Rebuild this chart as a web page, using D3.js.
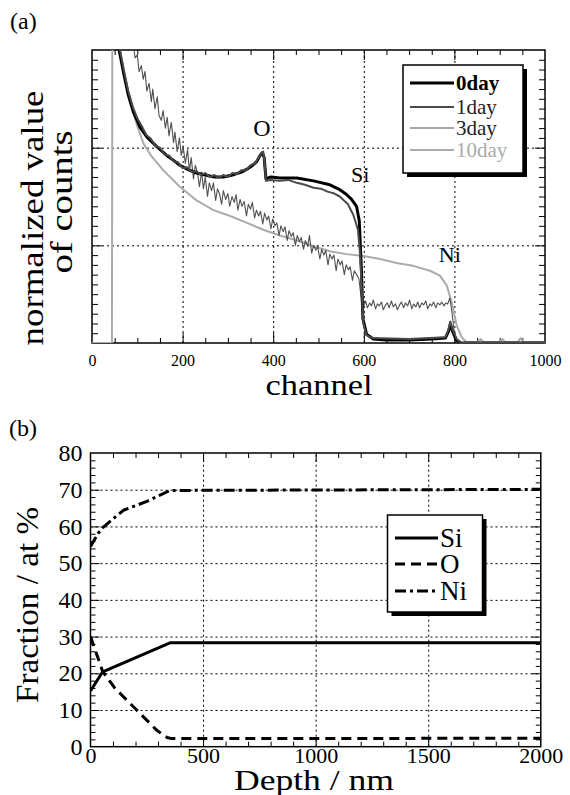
<!DOCTYPE html>
<html><head><meta charset="utf-8">
<script src="https://cdn.jsdelivr.net/npm/d3@7"></script>
<style>
body{margin:0;background:#fff}
svg{display:block}
text{font-family:"Liberation Serif","DejaVu Serif",serif;fill:#000}
</style>
</head><body>
<svg id="c" width="570" height="795"></svg>
<script>
// ---------------- DATA ----------------
// (a) RBS spectra: [channel, normalized counts]
const channelTicks = [0, 200, 400, 600, 800, 1000];
const spectraNames = ["0day", "1day", "3day", "10day"];
const day0 = [[52,3.6],[56,3.2],[60,3.0],[65,2.88],[70,2.76],[80,2.54],[91,2.37],[106,2.21],[121,2.11],[143,2.01],[165,1.92],[180,1.87],[194,1.82],[210,1.78],[231,1.74],[250,1.72],[270,1.70],[290,1.70],[310,1.72],[330,1.75],[342,1.78],[355,1.82],[364,1.86],[371,1.92],[376,1.95],[380,1.90],[384,1.68],[395,1.70],[415,1.69],[452,1.69],[489,1.66],[525,1.62],[547,1.57],[562,1.52],[573,1.47],[584,1.40],[590,1.25],[595,0.72],[598,0.25],[606,0.09],[621,0.04],[650,0.03],[700,0.03],[750,0.04],[780,0.05],[787,0.12],[791,0.19],[796,0.12],[804,0.03],[815,0],[1000,0]];
const day1 = [[54,3.6],[58,3.1],[64,2.95],[70,2.80],[80,2.58],[90,2.42],[100,2.30],[110,2.22],[120,2.13],[130,2.09],[140,2.02],[150,2.00],[160,1.93],[170,1.92],[180,1.86],[190,1.85],[200,1.79],[210,1.80],[220,1.75],[230,1.76],[240,1.72],[250,1.74],[260,1.70],[270,1.72],[280,1.69],[290,1.72],[300,1.70],[310,1.74],[320,1.73],[330,1.77],[340,1.77],[350,1.82],[360,1.84],[368,1.90],[374,1.94],[378,1.96],[381,1.85],[384,1.66],[395,1.67],[415,1.66],[433,1.67],[452,1.64],[470,1.62],[489,1.59],[505,1.58],[520,1.55],[535,1.53],[547,1.50],[565,1.42],[577,1.31],[587,1.16],[592,0.90],[596,0.50],[599,0.20],[606,0.08],[620,0.05],[700,0.04],[780,0.06],[787,0.14],[791,0.22],[796,0.14],[805,0.04],[815,0],[1000,0]];
const day3 = [[70,3.6],[80,3.3],[86,3.02],[91,3.08],[95,2.92],[100,2.95],[104,2.78],[109,2.84],[113,2.70],[117,2.78],[121,2.58],[126,2.66],[131,2.47],[134,2.60],[139,2.40],[144,2.52],[148,2.33],[153,2.28],[157,2.38],[162,2.20],[166,2.31],[170,2.12],[175,2.26],[180,2.05],[183,2.16],[188,1.96],[193,2.10],[197,1.92],[201,2.02],[206,1.84],[211,1.98],[215,1.76],[219,1.90],[224,1.68],[228,1.82],[233,1.74],[237,1.60],[242,1.75],[246,1.58],[250,1.70],[255,1.50],[259,1.64],[264,1.56],[268,1.64],[273,1.46],[277,1.58],[282,1.52],[286,1.42],[290,1.56],[295,1.47],[300,1.53],[304,1.40],[309,1.50],[314,1.44],[318,1.52],[322,1.36],[327,1.47],[331,1.40],[336,1.45],[341,1.30],[345,1.42],[350,1.37],[354,1.44],[359,1.28],[363,1.36],[368,1.30],[372,1.35],[377,1.22],[381,1.33],[386,1.26],[390,1.30],[395,1.17],[399,1.27],[404,1.20],[408,1.23],[413,1.10],[417,1.20],[422,1.14],[426,1.19],[431,1.05],[435,1.15],[440,1.09],[444,1.13],[449,1.00],[453,1.10],[458,1.04],[462,1.08],[467,0.96],[471,1.05],[476,0.99],[480,1.10],[485,0.92],[489,1.00],[494,0.95],[498,0.99],[503,0.86],[507,0.96],[512,0.90],[516,0.95],[521,0.80],[525,0.91],[530,0.86],[534,0.90],[539,0.74],[543,0.86],[548,0.80],[552,0.84],[557,0.70],[561,0.80],[566,0.75],[570,0.78],[575,0.64],[579,0.74],[584,0.70],[589,0.66],[592,0.55],[595,0.42],[600,0.38],[604,0.43],[608,0.36],[613,0.41],[617,0.38],[621,0.44],[626,0.35],[630,0.40],[634,0.38],[639,0.42],[643,0.34],[648,0.39],[652,0.41],[656,0.36],[661,0.43],[665,0.37],[670,0.40],[674,0.34],[679,0.39],[683,0.42],[688,0.36],[692,0.41],[697,0.38],[701,0.44],[706,0.35],[710,0.40],[715,0.37],[719,0.42],[723,0.36],[728,0.41],[732,0.39],[737,0.43],[741,0.35],[746,0.40],[750,0.38],[754,0.42],[759,0.36],[763,0.41],[768,0.39],[772,0.42],[777,0.38],[781,0.41],[785,0.40],[790,0.46],[795,0.30],[800,0.10],[806,0.02],[815,0],[1000,0]];
const day10 = [[0,0],[44,0],[45,3.6],[58,3.05],[65,2.88],[70,2.76],[80,2.55],[90,2.38],[100,2.22],[114,2.04],[130,1.92],[157,1.77],[194,1.60],[231,1.46],[268,1.36],[305,1.30],[342,1.23],[378,1.16],[415,1.10],[452,1.05],[489,0.99],[525,0.94],[562,0.91],[599,0.89],[636,0.86],[672,0.82],[709,0.79],[746,0.74],[768,0.69],[783,0.59],[794,0.42],[805,0.18],[816,0.06],[826,0.01],[850,0.01],[858,0.04],[864,0.01],[900,0.01],[906,0.04],[912,0.01],[940,0.01],[946,0.05],[952,0.01],[1000,0.01]];
const peakLabels = [["O", 375, 2.12], ["Si", 592, 1.65], ["Ni", 790, 0.83]];

// (b) depth profile: [depth nm, at %]
const depthTicks = [0, 500, 1000, 1500, 2000];
const fractionTicks = [0, 10, 20, 30, 40, 50, 60, 70, 80];
const elementNames = ["Si", "O", "Ni"];
const siProfile = [[0,15.2],[54,20.4],[353,28.3],[2000,28.3]];
const oProfile = [[0,30],[54,20.5],[109,15.9],[205,10],[294,4.5],[340,2.5],[360,2.2],[2000,2.3]];
const niProfile = [[0,54.5],[35,58.2],[57,59.8],[146,64.4],[250,66.8],[353,69.8],[2000,70.1]];

// ---------------- DRAW ----------------
const SERIF = '"Liberation Serif","DejaVu Serif",serif';
const svg = d3.select("#c");

function inward(g, axisFn, scale, values, len) {
  g.call(axisFn(scale).tickValues(values).tickSize(-len).tickFormat(""))
   .call(s => s.select(".domain").remove())
   .selectAll("line").attr("stroke", "#000").attr("stroke-width", 1);
}
function grid(g, axisFn, scale, values, len) {
  g.call(axisFn(scale).tickValues(values).tickSize(-len).tickFormat(""))
   .call(s => s.select(".domain").remove())
   .selectAll("line").attr("stroke", "#000").attr("stroke-width", 1).attr("stroke-dasharray", "2,3");
}
function txt(x, y, s, size) {
  return svg.append("text").attr("x", x).attr("y", y).attr("font-family", SERIF)
    .style("font-size", size + "px").text(s);
}

// ===== Panel (a) =====
const A = {l: 92, r: 545, t: 50, b: 343};
const xA = d3.scaleLinear().domain([0, 1000]).range([A.l, A.r]);
const yA = d3.scaleLinear().domain([0, 3]).range([A.b, A.t]);
const wA = A.r - A.l, hA = A.b - A.t;

svg.append("defs").append("clipPath").attr("id", "clipA")
  .append("rect").attr("x", A.l).attr("y", A.t).attr("width", wA).attr("height", hA);

grid(svg.append("g").attr("transform", `translate(0,${A.b})`), d3.axisBottom, xA, [200, 400, 600, 800], hA);
grid(svg.append("g").attr("transform", `translate(${A.l},0)`), d3.axisLeft, yA, [1, 2], wA);

const chMinor = d3.range(50, 1000, 50).filter(v => v % 200 !== 0);
const chMajor = [200, 400, 600, 800];
const cntMinor = d3.range(1, 30).map(v => v / 10).filter(v => Math.abs(v - Math.round(v)) > 1e-6);
inward(svg.append("g").attr("transform", `translate(0,${A.b})`), d3.axisBottom, xA, chMinor, 5);
inward(svg.append("g").attr("transform", `translate(0,${A.b})`), d3.axisBottom, xA, chMajor, 10);
inward(svg.append("g").attr("transform", `translate(0,${A.t})`), d3.axisTop, xA, chMinor, 5);
inward(svg.append("g").attr("transform", `translate(0,${A.t})`), d3.axisTop, xA, chMajor, 10);
inward(svg.append("g").attr("transform", `translate(${A.l},0)`), d3.axisLeft, yA, cntMinor, 6);
inward(svg.append("g").attr("transform", `translate(${A.l},0)`), d3.axisLeft, yA, [1, 2], 10);
inward(svg.append("g").attr("transform", `translate(${A.r},0)`), d3.axisRight, yA, cntMinor, 6);
inward(svg.append("g").attr("transform", `translate(${A.r},0)`), d3.axisRight, yA, [1, 2], 10);

svg.append("rect").attr("x", A.l).attr("y", A.t).attr("width", wA).attr("height", hA)
  .attr("fill", "none").attr("stroke", "#000").attr("stroke-width", 1.5);

const labA = svg.append("g").attr("transform", `translate(0,${A.b})`)
  .call(d3.axisBottom(xA).tickValues(channelTicks).tickSize(0).tickPadding(12).tickFormat(d3.format("d")));
labA.select(".domain").remove();
labA.selectAll("text").attr("font-family", SERIF).style("font-size", "16px").attr("fill", "#000");

const lineA = d3.line().x(d => xA(d[0])).y(d => yA(d[1]));
const styleA = {
  "0day": {stroke: "#000", width: 3},
  "1day": {stroke: "#4a4a4a", width: 2},
  "3day": {stroke: "#505050", width: 1.1},
  "10day": {stroke: "#ababab", width: 2}
};
const spectra = {"0day": day0, "1day": day1, "3day": day3, "10day": day10};
const gA = svg.append("g").attr("clip-path", "url(#clipA)");
["10day", "3day", "0day", "1day"].forEach(n => {
  gA.append("path").datum(spectra[n]).attr("d", lineA)
    .attr("fill", "none").attr("stroke", styleA[n].stroke).attr("stroke-width", styleA[n].width)
    .attr("stroke-linejoin", "round");
});

// peak labels
const peakSize = {"O": 24, "Si": 22, "Ni": 22};
peakLabels.forEach(([t, c, v]) => {
  txt(xA(c), yA(v), t, peakSize[t]).attr("text-anchor", "middle");
});

// legend (a)
const LA = {x: 403, y: 65, w: 120, h: 108};
svg.append("rect").attr("x", LA.x + 4).attr("y", LA.y + 4).attr("width", LA.w).attr("height", LA.h).attr("fill", "#000");
svg.append("rect").attr("x", LA.x).attr("y", LA.y).attr("width", LA.w).attr("height", LA.h)
  .attr("fill", "#fff").attr("stroke", "#000").attr("stroke-width", 1.5);
const legRowsA = [83, 107, 128, 150];
const legTextColor = {"0day": "#000", "1day": "#222", "3day": "#222", "10day": "#aaa"};
spectraNames.forEach((n, i) => {
  const y = legRowsA[i];
  svg.append("line").attr("x1", 410).attr("x2", 454).attr("y1", y).attr("y2", y)
    .attr("stroke", styleA[n].stroke).attr("stroke-width", styleA[n].width);
  txt(456, y + 7, n, 21).style("font-weight", n === "0day" ? "bold" : "normal")
    .style("fill", legTextColor[n]);
});

// axis titles (a)
txt(10, 29, "(a)", 24);
svg.append("text").attr("transform", "translate(43,218) rotate(-90)").attr("text-anchor", "middle")
  .attr("font-family", SERIF).style("font-size", "31px").attr("textLength", 255)
  .attr("lengthAdjust", "spacingAndGlyphs").text("normalized value");
svg.append("text").attr("transform", "translate(72,202) rotate(-90)").attr("text-anchor", "middle")
  .attr("font-family", SERIF).style("font-size", "31px").attr("textLength", 143)
  .attr("lengthAdjust", "spacingAndGlyphs").text("of counts");
txt(319, 395, "channel", 30).attr("text-anchor", "middle")
  .attr("textLength", 107).attr("lengthAdjust", "spacingAndGlyphs");

// ===== Panel (b) =====
const B = {l: 90.5, r: 540.8, t: 453, b: 746.7};
const xB = d3.scaleLinear().domain([0, 2000]).range([B.l, B.r]);
const yB = d3.scaleLinear().domain([0, 80]).range([B.b, B.t]);
const wB = B.r - B.l, hB = B.b - B.t;

svg.select("defs").append("clipPath").attr("id", "clipB")
  .append("rect").attr("x", B.l).attr("y", B.t - 2).attr("width", wB).attr("height", hB + 2);

grid(svg.append("g").attr("transform", `translate(0,${B.b})`), d3.axisBottom, xB, [500, 1000, 1500], hB);
grid(svg.append("g").attr("transform", `translate(${B.l},0)`), d3.axisLeft, yB, [10, 20, 30, 40, 50, 60, 70], wB);

const dMinor = d3.range(100, 2000, 100).filter(v => v % 500 !== 0);
const dMajor = [500, 1000, 1500];
const fMinor = d3.range(2, 80, 2).filter(v => v % 10 !== 0);
const fMajor = [10, 20, 30, 40, 50, 60, 70];
inward(svg.append("g").attr("transform", `translate(0,${B.b})`), d3.axisBottom, xB, dMinor, 5);
inward(svg.append("g").attr("transform", `translate(0,${B.b})`), d3.axisBottom, xB, dMajor, 9);
inward(svg.append("g").attr("transform", `translate(0,${B.t})`), d3.axisTop, xB, dMinor, 5);
inward(svg.append("g").attr("transform", `translate(0,${B.t})`), d3.axisTop, xB, dMajor, 9);
inward(svg.append("g").attr("transform", `translate(${B.l},0)`), d3.axisLeft, yB, fMinor, 5);
inward(svg.append("g").attr("transform", `translate(${B.l},0)`), d3.axisLeft, yB, fMajor, 9);
inward(svg.append("g").attr("transform", `translate(${B.r},0)`), d3.axisRight, yB, fMinor, 5);
inward(svg.append("g").attr("transform", `translate(${B.r},0)`), d3.axisRight, yB, fMajor, 9);

svg.append("rect").attr("x", B.l).attr("y", B.t).attr("width", wB).attr("height", hB)
  .attr("fill", "none").attr("stroke", "#000").attr("stroke-width", 1.5);

const labBx = svg.append("g").attr("transform", `translate(0,${B.b})`)
  .call(d3.axisBottom(xB).tickValues(depthTicks).tickSize(0).tickPadding(1).tickFormat(d3.format("d")));
labBx.select(".domain").remove();
labBx.selectAll("text").attr("font-family", SERIF).style("font-size", "22px").attr("fill", "#000");
const labBy = svg.append("g").attr("transform", `translate(${B.l},0)`)
  .call(d3.axisLeft(yB).tickValues(fractionTicks).tickSize(0).tickPadding(8).tickFormat(d3.format("d")));
labBy.select(".domain").remove();
labBy.selectAll("text").attr("font-family", SERIF).style("font-size", "24px").attr("fill", "#000");

const lineB = d3.line().x(d => xB(d[0])).y(d => yB(d[1]));
const styleB = {
  "Si": {dash: null, width: 3},
  "O": {dash: "10,6", width: 3},
  "Ni": {dash: "11,4,3,4", width: 3}
};
const profiles = {"Si": siProfile, "O": oProfile, "Ni": niProfile};
const gB = svg.append("g").attr("clip-path", "url(#clipB)");
elementNames.forEach(n => {
  gB.append("path").datum(profiles[n]).attr("d", lineB)
    .attr("fill", "none").attr("stroke", "#000").attr("stroke-width", styleB[n].width)
    .attr("stroke-dasharray", styleB[n].dash).attr("stroke-linejoin", "round");
});

// legend (b)
const LB = {x: 387.5, y: 515, w: 95, h: 97};
svg.append("rect").attr("x", LB.x + 4).attr("y", LB.y + 4).attr("width", LB.w).attr("height", LB.h).attr("fill", "#000");
svg.append("rect").attr("x", LB.x).attr("y", LB.y).attr("width", LB.w).attr("height", LB.h)
  .attr("fill", "#fff").attr("stroke", "#000").attr("stroke-width", 1.5);
const legRowsB = [538, 564, 591];
elementNames.forEach((n, i) => {
  const y = legRowsB[i];
  svg.append("line").attr("x1", 395).attr("x2", 438).attr("y1", y).attr("y2", y)
    .attr("stroke", "#000").attr("stroke-width", 3).attr("stroke-dasharray", styleB[n].dash);
  txt(440, y + 9, n, 27);
});

// axis titles (b)
txt(9, 436, "(b)", 24);
svg.append("text").attr("transform", "translate(38,605) rotate(-90)").attr("text-anchor", "middle")
  .attr("font-family", SERIF).style("font-size", "31px").attr("textLength", 196)
  .attr("lengthAdjust", "spacingAndGlyphs").text("Fraction / at %");
txt(314, 790, "Depth / nm", 30).attr("text-anchor", "middle")
  .attr("textLength", 160).attr("lengthAdjust", "spacingAndGlyphs");
</script>
</body></html>
